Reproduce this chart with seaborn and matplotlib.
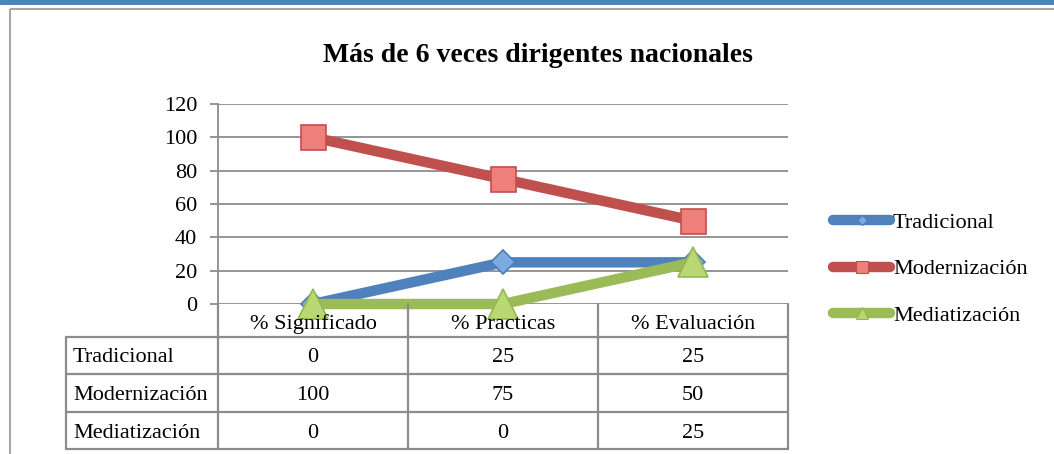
import numpy as np
import pandas as pd
import matplotlib
matplotlib.use("Agg")
import matplotlib.pyplot as plt
import seaborn as sns
from matplotlib.transforms import Affine2D
from matplotlib.lines import Line2D
from matplotlib.patches import Rectangle

# ---------------- data ----------------
categories = ["% Significado", "% Practicas", "% Evaluación"]
series_names = ["Tradicional", "Modernización", "Mediatización"]
tradicional = [0, 25, 25]
modernizacion = [100, 75, 50]
mediatizacion = [0, 0, 25]
yticks = [0, 20, 40, 60, 80, 100, 120]
title = "Más de 6 veces dirigentes nacionales"

values = {"Tradicional": tradicional, "Modernización": modernizacion, "Mediatización": mediatizacion}

# ---------------- style ----------------
line_colors = {"Tradicional": "#4f81bd", "Modernización": "#c0504d", "Mediatización": "#9bbb59"}
face_colors = {"Tradicional": "#7eaae2", "Modernización": "#ee7f7b", "Mediatización": "#b9d873"}
edge_colors = {"Tradicional": "#4a7cba", "Modernización": "#c0504d", "Mediatización": "#94b84f"}
markers = {"Tradicional": "D", "Modernización": "s", "Mediatización": "^"}
msizes = {"Tradicional": 12, "Modernización": 18, "Mediatización": 21}
leg_msizes = {"Tradicional": 5, "Modernización": 8.5, "Mediatización": 8}
GRAY = "#8c8c8c"

W, H = 1054, 454
sns.set_theme(style="white")
plt.rcParams["font.family"] = ["Liberation Serif", "DejaVu Serif"]
plt.rcParams["text.color"] = "black"
FS = 16

fig = plt.figure(figsize=(W / 100, H / 100), dpi=100)
px = Affine2D().scale(1 / W, -1 / H).translate(0, 1) + fig.transFigure

# top blue band and chart border
fig.patches.append(Rectangle((0, 0), W, 5, transform=px, facecolor="#4f81bd", edgecolor="none"))
fig.patches.append(Rectangle((10, 9), W + 20, H + 20, transform=px, facecolor="none",
                             edgecolor="#a6a6a6", linewidth=1.5))

# plot area
L, R, T, B = 218, 788, 104, 304
ax = fig.add_axes([L / W, 1 - B / H, (R - L) / W, (B - T) / H])
ax.set_facecolor("none")

rows = []
for s in series_names:
    for i, v in enumerate(values[s]):
        rows.append({"serie": s, "pos": i, "valor": v})
df = pd.DataFrame(rows)

sns.lineplot(data=df, x="pos", y="valor", hue="serie", style="serie",
             hue_order=series_names, style_order=series_names,
             palette=line_colors, markers=markers, dashes=False,
             linewidth=7.5, ax=ax, legend=False, sort=False)

for ln, s in zip(ax.lines, series_names):
    ln.set_markersize(msizes[s])
    ln.set_markerfacecolor(face_colors[s])
    ln.set_markeredgecolor(edge_colors[s])
    ln.set_markeredgewidth(1.2)
    ln.set_clip_on(False)
    ln.set_solid_capstyle("butt")

ax.set_xlim(-0.5, len(categories) - 0.5)
ax.set_ylim(yticks[0], yticks[-1])
ax.set_yticks(yticks)
ax.set_yticklabels([str(t) for t in yticks], fontsize=FS, color="black")
ax.set_xticks([])
ax.set_xlabel("")
ax.set_ylabel("")
ax.yaxis.grid(True, color=GRAY, linewidth=1.3)
ax.set_axisbelow(True)
for sp in ["top", "right", "bottom"]:
    ax.spines[sp].set_visible(False)
ax.spines["left"].set_color(GRAY)
ax.spines["left"].set_linewidth(1.3)
ax.tick_params(axis="y", which="major", left=True, length=5.5, width=1.3, color=GRAY, pad=9.5)

# title
fig.text(538 / W, 1 - 55 / H, title, ha="center", va="center", fontsize=20, fontweight="bold",
         color="black")

# ---------------- data table ----------------
col_w = (R - L) / len(categories)
col_edges = [L + i * col_w for i in range(len(categories) + 1)]
row_edges = [304, 337, 374, 412, 449]
TL = 66
lw = 1.6
for i, x in enumerate(col_edges):
    fig.add_artist(Line2D([x, x], [row_edges[0], row_edges[-1]], transform=px, color=GRAY, lw=lw))
fig.add_artist(Line2D([TL, TL], [row_edges[1], row_edges[-1]], transform=px, color=GRAY, lw=lw))
for y in row_edges[1:]:
    fig.add_artist(Line2D([TL, R], [y, y], transform=px, color=GRAY, lw=lw))
for i, c in enumerate(categories):
    fig.text(col_edges[i] + col_w / 2, (row_edges[0] + row_edges[1]) / 2 + 4, c, transform=px,
             ha="center", va="center", fontsize=FS, color="black")
for r, s in enumerate(series_names):
    yc = (row_edges[r + 1] + row_edges[r + 2]) / 2 + 2.5
    fig.text(TL + 7, yc, s, transform=px, ha="left", va="center", fontsize=FS, color="black")
    for i, v in enumerate(values[s]):
        fig.text(col_edges[i] + col_w / 2, yc, str(v), transform=px, ha="center", va="center",
                 fontsize=FS, color="black")

# ---------------- legend ----------------
handles = [Line2D([], [], color=line_colors[s], lw=7.5, marker=markers[s], markersize=leg_msizes[s],
                  markerfacecolor=face_colors[s], markeredgecolor=edge_colors[s], markeredgewidth=0.8,
                  solid_capstyle="round")
           for s in series_names]
fs_px = FS * 100 / 72
leg = fig.legend(handles, series_names, loc="upper left", bbox_to_anchor=(833 / W, 1 - 212 / H),
                 frameon=False, fontsize=FS, borderaxespad=0, borderpad=0,
                 handlelength=57 / fs_px, handletextpad=3 / fs_px, labelspacing=(48.5 - fs_px) / fs_px)
for t in leg.get_texts():
    t.set_color("black")

fig.savefig("out.png", dpi=100)
